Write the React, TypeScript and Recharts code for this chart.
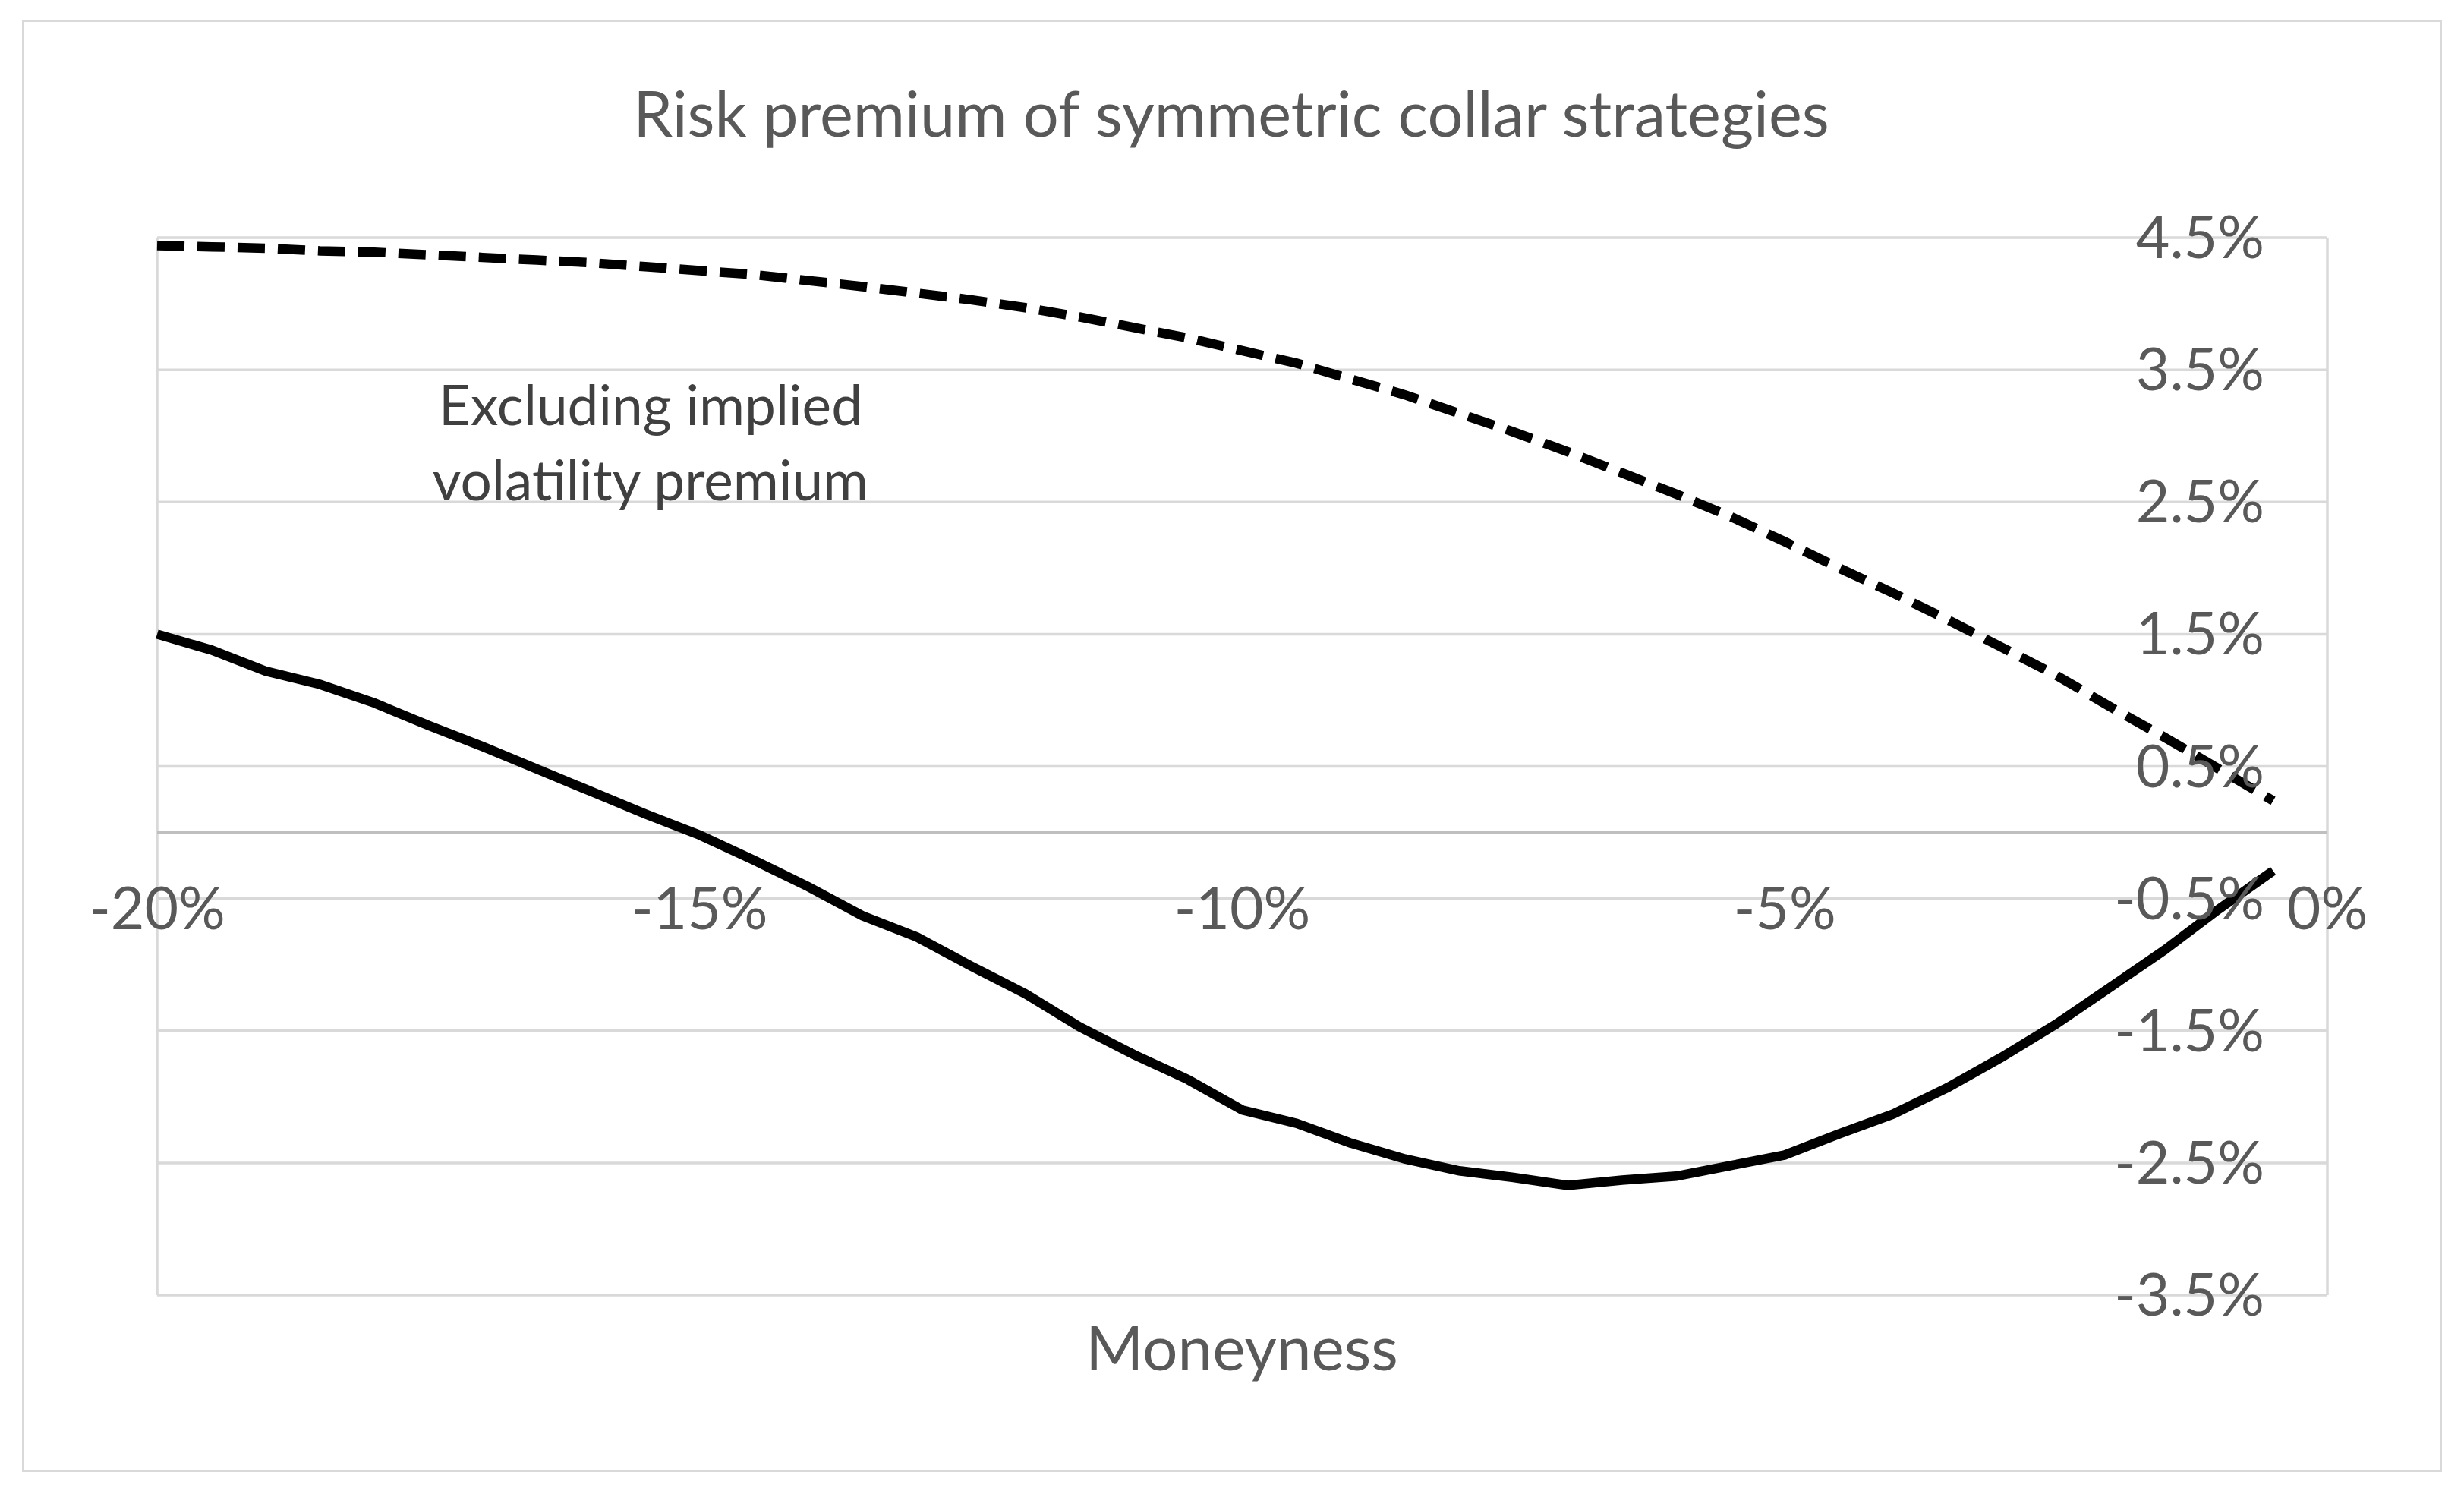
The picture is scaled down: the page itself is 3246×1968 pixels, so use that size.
import {
  LineChart,
  Line,
  XAxis,
  YAxis,
  CartesianGrid,
  ReferenceLine,
  ReferenceDot,
} from 'recharts';

// moneyness of the collar (in %)
const moneyness = [
  -20, -19.5, -19, -18.5, -18, -17.5, -17, -16.5, -16, -15.5,
  -15, -14.5, -14, -13.5, -13, -12.5, -12, -11.5, -11, -10.5,
  -10, -9.5, -9, -8.5, -8, -7.5, -7, -6.5, -6, -5.5,
  -5, -4.5, -4, -3.5, -3, -2.5, -2, -1.5, -1, -0.5,
];

// solid line: risk premium (in %)
const riskPremium = [
  1.5, 1.38, 1.22, 1.12, 0.98, 0.81, 0.65, 0.48, 0.31, 0.14,
  -0.02, -0.21, -0.41, -0.63, -0.79, -1.01, -1.22, -1.47, -1.68, -1.87,
  -2.1, -2.2, -2.35, -2.47, -2.56, -2.61, -2.67, -2.63, -2.6, -2.52,
  -2.44, -2.28, -2.13, -1.93, -1.7, -1.45, -1.17, -0.89, -0.58, -0.29,
];

// dashed line: excluding implied volatility premium (in %)
const excludingVolPremium = [
  4.44, 4.43, 4.42, 4.4, 4.39, 4.37, 4.35, 4.33, 4.31, 4.28,
  4.25, 4.22, 4.175, 4.13, 4.08, 4.03, 3.97, 3.9, 3.82, 3.74,
  3.645, 3.55, 3.43, 3.31, 3.17, 3.03, 2.88, 2.72, 2.56, 2.39,
  2.2, 2.0, 1.81, 1.61, 1.4, 1.19, 0.95, 0.72, 0.48, 0.24,
];

const xTicks = [-20, -15, -10, -5, 0];
const yTicks = [-3.5, -2.5, -1.5, -0.5, 0.5, 1.5, 2.5, 3.5, 4.5];

const data = moneyness.map((m, i) => ({
  m,
  total: riskPremium[i],
  exVol: excludingVolPremium[i],
}));

const W = 3246;
const H = 1968;
const FONT = 'Lato, "Noto Sans", sans-serif';
const GRAY = '#595959';
const TICK_FS = 77;

const fmtX = (v: number) => `${v}%`;
const fmtY = (v: number) => `${v.toFixed(1)}%`;

// y labels sit inside the plot, right-aligned a bit left of the 0% edge
function YTick(props: any) {
  const { x, y, payload } = props;
  return (
    <text
      x={x - 83}
      y={y + 27}
      textAnchor="end"
      fill={GRAY}
      fontSize={TICK_FS}
      fontFamily={FONT}
    >
      {fmtY(payload.value)}
    </text>
  );
}

// x labels hang under the zero line (axis crosses at 0)
const xLabel = (t: number) => (props: any) => (
  <text
    x={props.cx}
    y={props.cy + 127}
    textAnchor="middle"
    fill={GRAY}
    fontSize={TICK_FS}
    fontFamily={FONT}
  >
    {fmtX(t)}
  </text>
);

export default function App() {
  return (
    <div
      style={{
        position: 'absolute',
        left: 0,
        top: 0,
        width: W,
        height: H,
        background: '#fff',
        overflow: 'hidden',
      }}
    >
      <div
        style={{
          position: 'absolute',
          left: 29,
          top: 26,
          width: 3188,
          height: 1913,
          border: '3px solid #d9d9d9',
          boxSizing: 'border-box',
        }}
      />
      <div style={{ position: 'absolute', left: 0, top: 0 }}>
        <LineChart
          width={W}
          height={H}
          data={data}
          margin={{ top: 313, right: 120, bottom: 232, left: 207 }}
        >
          <CartesianGrid stroke="#d9d9d9" strokeWidth={3.5} />
          <XAxis
            type="number"
            dataKey="m"
            domain={[-20, 0]}
            ticks={xTicks}
            tick={false}
            axisLine={false}
            tickLine={false}
            height={30}
          />
          <YAxis
            orientation="right"
            type="number"
            domain={[-3.5, 4.5]}
            ticks={yTicks}
            interval={0}
            tick={<YTick />}
            axisLine={false}
            tickLine={false}
            tickSize={0}
            tickMargin={0}
            width={60}
          />
          <ReferenceLine y={0} stroke="#bfbfbf" strokeWidth={4} />
          {xTicks.map((t) => (
            <ReferenceDot
              key={t}
              x={t}
              y={0}
              r={0}
              ifOverflow="visible"
              shape={xLabel(t)}
            />
          ))}
          <Line
            type="linear"
            dataKey="exVol"
            stroke="#000"
            strokeWidth={12.5}
            strokeDasharray="36 17"
            dot={false}
            isAnimationActive={false}
          />
          <Line
            type="linear"
            dataKey="total"
            stroke="#000"
            strokeWidth={12.5}
            dot={false}
            isAnimationActive={false}
          />
        </LineChart>
      </div>
      <svg
        width={W}
        height={H}
        style={{ position: 'absolute', left: 0, top: 0, pointerEvents: 'none' }}
      >
        <text x={1622} y={180} textAnchor="middle" fill={GRAY} fontSize={83} fontFamily={FONT}>
          Risk premium of symmetric collar strategies
        </text>
        <text textAnchor="middle" fill="#404040" fontSize={73} fontFamily={FONT}>
          <tspan x={857} y={560}>Excluding implied</tspan>
          <tspan x={857} y={659}>volatility premium</tspan>
        </text>
        <text x={1636} y={1805} textAnchor="middle" fill={GRAY} fontSize={82} fontFamily={FONT}>
          Moneyness
        </text>
      </svg>
    </div>
  );
}
